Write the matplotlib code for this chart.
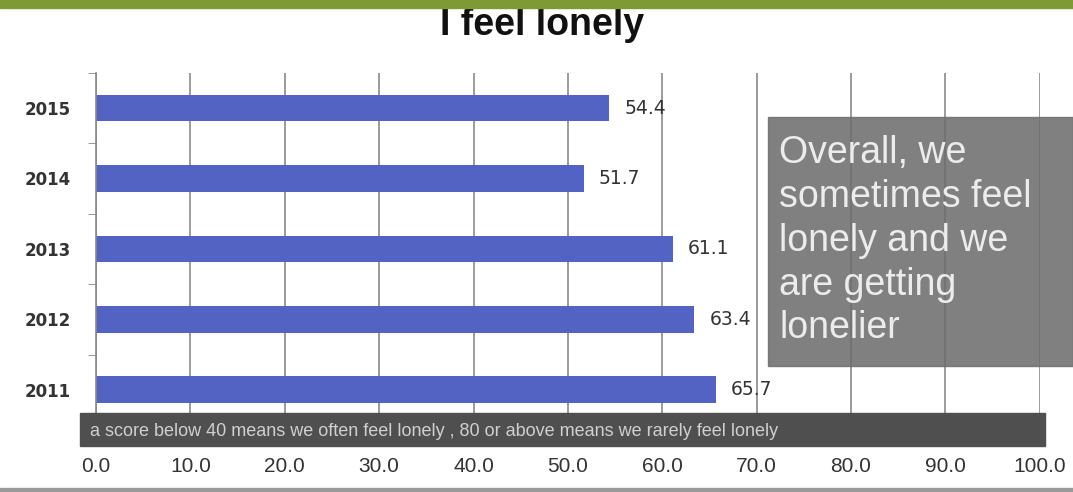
import matplotlib
matplotlib.use("Agg")
import matplotlib.pyplot as plt
from matplotlib.patches import Rectangle
from matplotlib.font_manager import FontProperties

years = ["2011", "2012", "2013", "2014", "2015"]
scores = [65.7, 63.4, 61.1, 51.7, 54.4]
x_ticks = [0, 10, 20, 30, 40, 50, 60, 70, 80, 90, 100]

narrow_bold = FontProperties(family="Liberation Sans", stretch="condensed", weight="bold")
narrow = FontProperties(family="Liberation Sans", stretch="condensed")
regular = FontProperties(family="Liberation Sans", stretch="normal")

fig = plt.figure(figsize=(10.73, 4.92), dpi=100)
ax = fig.add_axes([0.0895, 0.136, 0.8795, 0.716])

y = range(len(years))
ax.barh(y, scores, height=0.38, color="#5263c4", zorder=2)
for yi, v in zip(y, scores):
    ax.text(v + 1.6, yi, f"{v:.1f}", va="center", ha="left", fontsize=13.5,
            color="#333333", zorder=3)

ax.set_xlim(0, 100)
ax.set_ylim(-0.5, len(years) - 0.5)
ax.set_xticks(x_ticks)
ax.set_xticklabels([f"{t:.1f}" for t in x_ticks], color="#333333",
                   fontproperties=regular, fontsize=15)
ax.set_yticks(list(y))
ax.set_yticklabels(years, fontsize=12, color="#333333", fontweight="bold")
ax.set_yticks([i + 0.5 for i in range(len(years))], minor=True)
ax.tick_params(axis="y", which="major", length=0, pad=18)
ax.tick_params(axis="y", which="minor", length=6, color="#888888", direction="out")
ax.tick_params(axis="x", length=0, pad=23)
ax.grid(axis="x", color="#8a8a8a", linewidth=1.2, zorder=1)
for s in ["top", "right", "bottom"]:
    ax.spines[s].set_visible(False)
ax.spines["left"].set_color("#888888")
ax.spines["left"].set_linewidth(1.2)

# dark annotation band under the bars
fig.patches.append(Rectangle((80 / 1073, 1 - 446 / 492), 965 / 1073, 33 / 492,
                             transform=fig.transFigure, color="#4f4f4f", zorder=5))
fig.text(90 / 1073, 1 - 431 / 492,
         "a score below 40 means we often feel lonely , 80 or above means we rarely feel lonely",
         color="#d0d0d0", va="center", ha="left", zorder=6,
         fontproperties=narrow, fontsize=13)

# grey comment box
fig.patches.append(Rectangle((768 / 1073, 1 - 366 / 492), 305 / 1073, 249 / 492,
                             transform=fig.transFigure, color="#6e6e6e", alpha=0.88,
                             zorder=5))
fig.text(779 / 1073, 1 - 135 / 492,
         "Overall, we\nsometimes feel\nlonely and we\nare getting\nlonelier",
         color="#ececec", va="top", ha="left", linespacing=1.28,
         fontproperties=regular, fontsize=27, zorder=6)

# green strip at top and bottom rule
fig.patches.append(Rectangle((0, 1 - 8 / 492), 1, 8 / 492, transform=fig.transFigure,
                             color="#7d9a35", zorder=5))
fig.patches.append(Rectangle((0, 0), 1, 4 / 492, transform=fig.transFigure,
                             color="#9a9a9a", zorder=5))

fig.text(0.505, 1 - 35 / 492, "I feel lonely", ha="center", va="baseline",
         color="#111111", fontproperties=narrow_bold, fontsize=27)

fig.savefig("out.png", dpi=100)
